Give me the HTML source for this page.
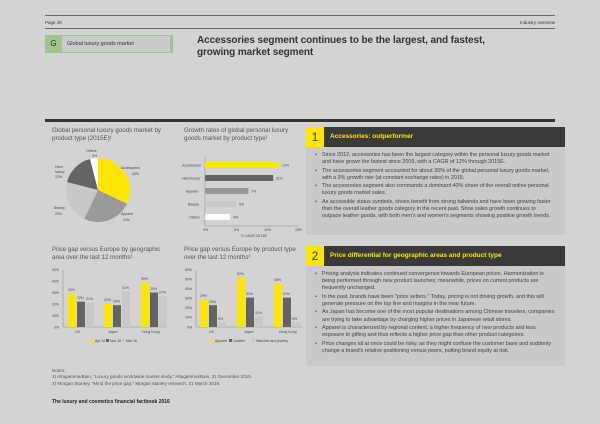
<!DOCTYPE html>
<html><head><meta charset="utf-8"><style>
body{margin:0;width:600px;height:424px;background:#d3d3d3;font-family:"Liberation Sans",sans-serif;color:#333;position:relative;overflow:hidden}
.a{position:absolute}
.t{font-size:6.2px;line-height:7.5px;color:#555}
.box{position:absolute;left:306px;width:259px;background:#c9c9c9}
.hd{position:absolute;left:306px;width:259px;height:20px;background:#3a3a3a}
.hd .n{position:absolute;left:0;top:0;width:18px;height:20px;background:#ffe600;font-size:12px;line-height:20px;text-align:center;color:#333}
.hd .h{position:absolute;left:24px;top:0;line-height:20px;font-size:6.5px;color:#ffe600;font-weight:bold}
ul{margin:0;padding:0 0 0 10px;list-style:none}
li{font-size:5.5px;line-height:7.1px;color:#444;margin-bottom:1.5px;position:relative;letter-spacing:-0.05px}
li:before{content:"•";position:absolute;left:-7px}
</style></head><body>
<div class="a" style="left:45px;top:15px;width:510px;height:1px;background:#666"></div>
<div class="a" style="left:45px;top:20px;font-size:4.5px;color:#333">Page 40</div>
<div class="a" style="right:45px;top:20px;font-size:4.5px;color:#333">Industry overview</div>
<div class="a" style="left:45px;top:28px;width:510px;height:1px;background:#666"></div>
<div class="a" style="left:45px;top:35px;width:128px;height:18px;background:#cbcbcb;border:1px solid #9fc48f;box-sizing:border-box;border-right:3px solid #9fc48f"></div>
<div class="a" style="left:45px;top:35px;width:17px;height:18px;background:#9fc48f;font-size:8px;line-height:18px;text-align:center">G</div>
<div class="a" style="left:67px;top:35px;font-size:5.5px;line-height:18px">Global luxury goods market</div>
<div class="a" style="left:197px;top:35px;font-size:10px;line-height:12px;font-weight:bold;color:#333;letter-spacing:-0.1px">Accessories segment continues to be the largest, and fastest,<br>growing market segment</div>
<div class="a" style="left:45px;top:119px;width:510px;height:3px;background:#333"></div>

<div class="a t" style="left:52px;top:127px">Global personal luxury goods market by<br>product type (2015E)¹</div>
<div class="a t" style="left:184px;top:127px">Growth rates of global personal luxury<br>goods market by product type¹</div>

<svg class="a" style="left:0;top:0" width="600" height="424">
<g font-family="Liberation Sans" font-size="3.5" fill="#444">
<path d="M98 190 L98 158 A32 32 0 0 1 126.9 203.7 Z" fill="#ffe600"/>
<path d="M98 190 L126.9 203.7 A32 32 0 0 1 84.3 218.9 Z" fill="#999"/>
<path d="M98 190 L84.3 218.9 A32 32 0 0 1 67 182 Z" fill="#c8c8c8"/>
<path d="M98 190 L67 182 A32 32 0 0 1 90.1 159 Z" fill="#646464"/>
<path d="M98 190 L90.1 159 A32 32 0 0 1 98 158 Z" fill="#fff"/>
<text x="86" y="152">Others</text><text x="92" y="157">4%</text>
<text x="121" y="169">Accessories</text><text x="132" y="175">30%</text>
<text x="121" y="215">Apparel</text><text x="123" y="221">24%</text>
<text x="54" y="209">Beauty</text><text x="55" y="215">20%</text>
<text x="55" y="168">Hard</text><text x="55" y="173">luxury</text><text x="55" y="178">22%</text>
<line x1="205" y1="157" x2="205" y2="226" stroke="#888" stroke-width="0.5"/>
<line x1="205" y1="226" x2="298" y2="226" stroke="#888" stroke-width="0.5"/>
<rect x="205" y="162" width="74.4" height="6" fill="#ffe600"/>
<rect x="205" y="175" width="68.2" height="6" fill="#646464"/>
<rect x="205" y="188" width="43.4" height="6" fill="#999"/>
<rect x="205" y="201" width="31" height="6" fill="#c8c8c8"/>
<rect x="205" y="214" width="24.8" height="6" fill="#fff"/>
<text x="182" y="166.5">Accessories</text><text x="282" y="166.5">12%</text>
<text x="182" y="179.5">Hard luxury</text><text x="276" y="179.5">11%</text>
<text x="186" y="192.5">Apparel</text><text x="251" y="192.5">7%</text>
<text x="188" y="205.5">Beauty</text><text x="239" y="205.5">5%</text>
<text x="189" y="218.5">Others</text><text x="233" y="218.5">4%</text>
<text x="203" y="231">0%</text><text x="234" y="231">5%</text><text x="264" y="231">10%</text><text x="295" y="231">15%</text>
<text x="241" y="237">© CAGR 09-15E</text>

<line x1="63" y1="270" x2="63" y2="327" stroke="#888" stroke-width="0.5"/>
<line x1="63" y1="327" x2="166" y2="327" stroke="#888" stroke-width="0.5"/>
<g>
<text x="52" y="271">50%</text><text x="52" y="282.5">40%</text><text x="52" y="294">30%</text><text x="52" y="305.5">20%</text><text x="52" y="317">10%</text><text x="54" y="328.5">0%</text>
<rect x="68" y="293.6" width="8" height="33.4" fill="#ffe600"/>
<rect x="77" y="301.7" width="8" height="25.3" fill="#646464"/>
<rect x="86" y="302.8" width="8" height="24.2" fill="#c8c8c8"/>
<text x="68" y="291">29%</text><text x="77" y="299">22%</text><text x="86" y="300">21%</text>
<rect x="104" y="304" width="8" height="23" fill="#ffe600"/>
<rect x="113" y="305.2" width="8" height="21.8" fill="#646464"/>
<rect x="122" y="291.4" width="8" height="35.6" fill="#c8c8c8"/>
<text x="104" y="301">20%</text><text x="113" y="302.5">19%</text><text x="122" y="289">31%</text>
<rect x="141" y="282.2" width="8" height="44.8" fill="#ffe600"/>
<rect x="150" y="292.5" width="8" height="34.5" fill="#646464"/>
<rect x="159" y="296" width="8" height="31" fill="#c8c8c8"/>
<text x="141" y="280">39%</text><text x="150" y="290">30%</text><text x="159" y="293.5">27%</text>
<text x="75" y="333">US</text><text x="108" y="333">Japan</text><text x="142" y="333">Hong Kong</text>
<rect x="91" y="339" width="3" height="3" fill="#ffe600"/><text x="95" y="342">Apr 15</text>
<rect x="106" y="339" width="3" height="3" fill="#646464"/><text x="110" y="342">Nov 15</text>
<rect x="122" y="339" width="3" height="3" fill="#c8c8c8"/><text x="126" y="342">Mar 16</text>
</g>
<g>
<line x1="196" y1="270" x2="196" y2="327" stroke="#888" stroke-width="0.5"/>
<line x1="196" y1="327" x2="302" y2="327" stroke="#888" stroke-width="0.5"/>
<text x="185" y="271">60%</text><text x="185" y="280.5">50%</text><text x="185" y="290">40%</text><text x="185" y="299.5">30%</text><text x="185" y="309">20%</text><text x="185" y="318.5">10%</text><text x="187" y="328.5">0%</text>
<rect x="200" y="299.5" width="8" height="27.5" fill="#ffe600"/>
<rect x="209" y="305.2" width="8" height="21.8" fill="#646464"/>
<rect x="218" y="322.3" width="8" height="4.7" fill="#c8c8c8"/>
<text x="200" y="297">29%</text><text x="209" y="303">23%</text><text x="218" y="320">5%</text>
<rect x="237" y="277.6" width="8" height="49.4" fill="#ffe600"/>
<rect x="246" y="297.6" width="8" height="29.4" fill="#646464"/>
<rect x="255" y="316.6" width="8" height="10.4" fill="#c8c8c8"/>
<text x="237" y="275">52%</text><text x="246" y="295">31%</text><text x="255" y="314">11%</text>
<rect x="274" y="283.3" width="8" height="43.7" fill="#ffe600"/>
<rect x="283" y="297.6" width="8" height="29.4" fill="#646464"/>
<rect x="292" y="322.3" width="8" height="4.7" fill="#c8c8c8"/>
<text x="274" y="281">46%</text><text x="283" y="295">31%</text><text x="292" y="320">5%</text>
<text x="209" y="333">US</text><text x="244" y="333">Japan</text><text x="279" y="333">Hong Kong</text>
<rect x="211" y="339" width="3" height="3" fill="#ffe600"/><text x="215" y="342">Apparel</text>
<rect x="229" y="339" width="3" height="3" fill="#646464"/><text x="233" y="342">Leather</text>
<rect x="252" y="339" width="3" height="3" fill="#c8c8c8"/><text x="256" y="342">Watches and jewelry</text>
</g>
</g></svg>

<div class="a t" style="left:52px;top:246px">Price gap versus Europe by geographic<br>area over the last 12 months²</div>
<div class="a t" style="left:184px;top:246px">Price gap versus Europe by product type<br>over the last 12 months²</div>

<div class="hd" style="top:127px"><div class="n">1</div><div class="h">Accessories: outperformer</div></div>
<div class="box" style="top:147px;height:88px;padding-top:5px;box-sizing:border-box"><ul style="padding-left:16px;padding-right:14px">
<li>Since 2012, accessories has been the largest category within the personal luxury goods market and have grown the fastest since 2009, with a CAGR of 12% through 2015E.</li>
<li>The accessories segment accounted for about 30% of the global personal luxury goods market, with a 3% growth rate (at constant exchange rates) in 2015.</li>
<li>The accessories segment also commands a dominant 40% share of the overall online personal luxury goods market sales.</li>
<li>As accessible status symbols, shoes benefit from strong tailwinds and have been growing faster than the overall leather goods category in the recent past. Shoe sales growth continues to outpace leather goods, with both men's and women's segments showing positive growth trends.</li></ul></div>

<div class="hd" style="top:246px"><div class="n">2</div><div class="h">Price differential for geographic areas and product type</div></div>
<div class="box" style="top:266px;height:100px;padding-top:5px;box-sizing:border-box"><ul style="padding-left:16px;padding-right:8px">
<li>Pricing analysis indicates continued convergence towards European prices. Harmonization is being performed through new product launches; meanwhile, prices on current products are frequently unchanged.</li>
<li>In the past, brands have been "price setters." Today, pricing is not driving growth, and this will generate pressure on the top line and margins in the near future.</li>
<li>As Japan has become one of the most popular destinations among Chinese travelers, companies are trying to take advantage by charging higher prices in Japanese retail stores.</li>
<li>Apparel is characterized by regional content, a higher frequency of new products and less exposure to gifting and thus reflects a higher price gap than other product categories.</li>
<li>Price changes all at once could be risky, as they might confuse the customer base and suddenly change a brand's relative positioning versus peers, putting brand equity at risk.</li></ul></div>

<div class="a" style="left:52px;top:368px;font-size:4.6px;line-height:6.3px;color:#555">Notes:<br>1) Altagamma/Bain, "Luxury goods worldwide market study," Altagamma/Bain, 21 December 2015.<br>2) Morgan Stanley, "Mind the price gap," Morgan stanley research, 21 March 2016.</div>
<div class="a" style="left:52px;top:399px;font-size:5px;font-weight:bold;color:#222">The luxury and cosmetics financial factbook 2016</div>
</body></html>
